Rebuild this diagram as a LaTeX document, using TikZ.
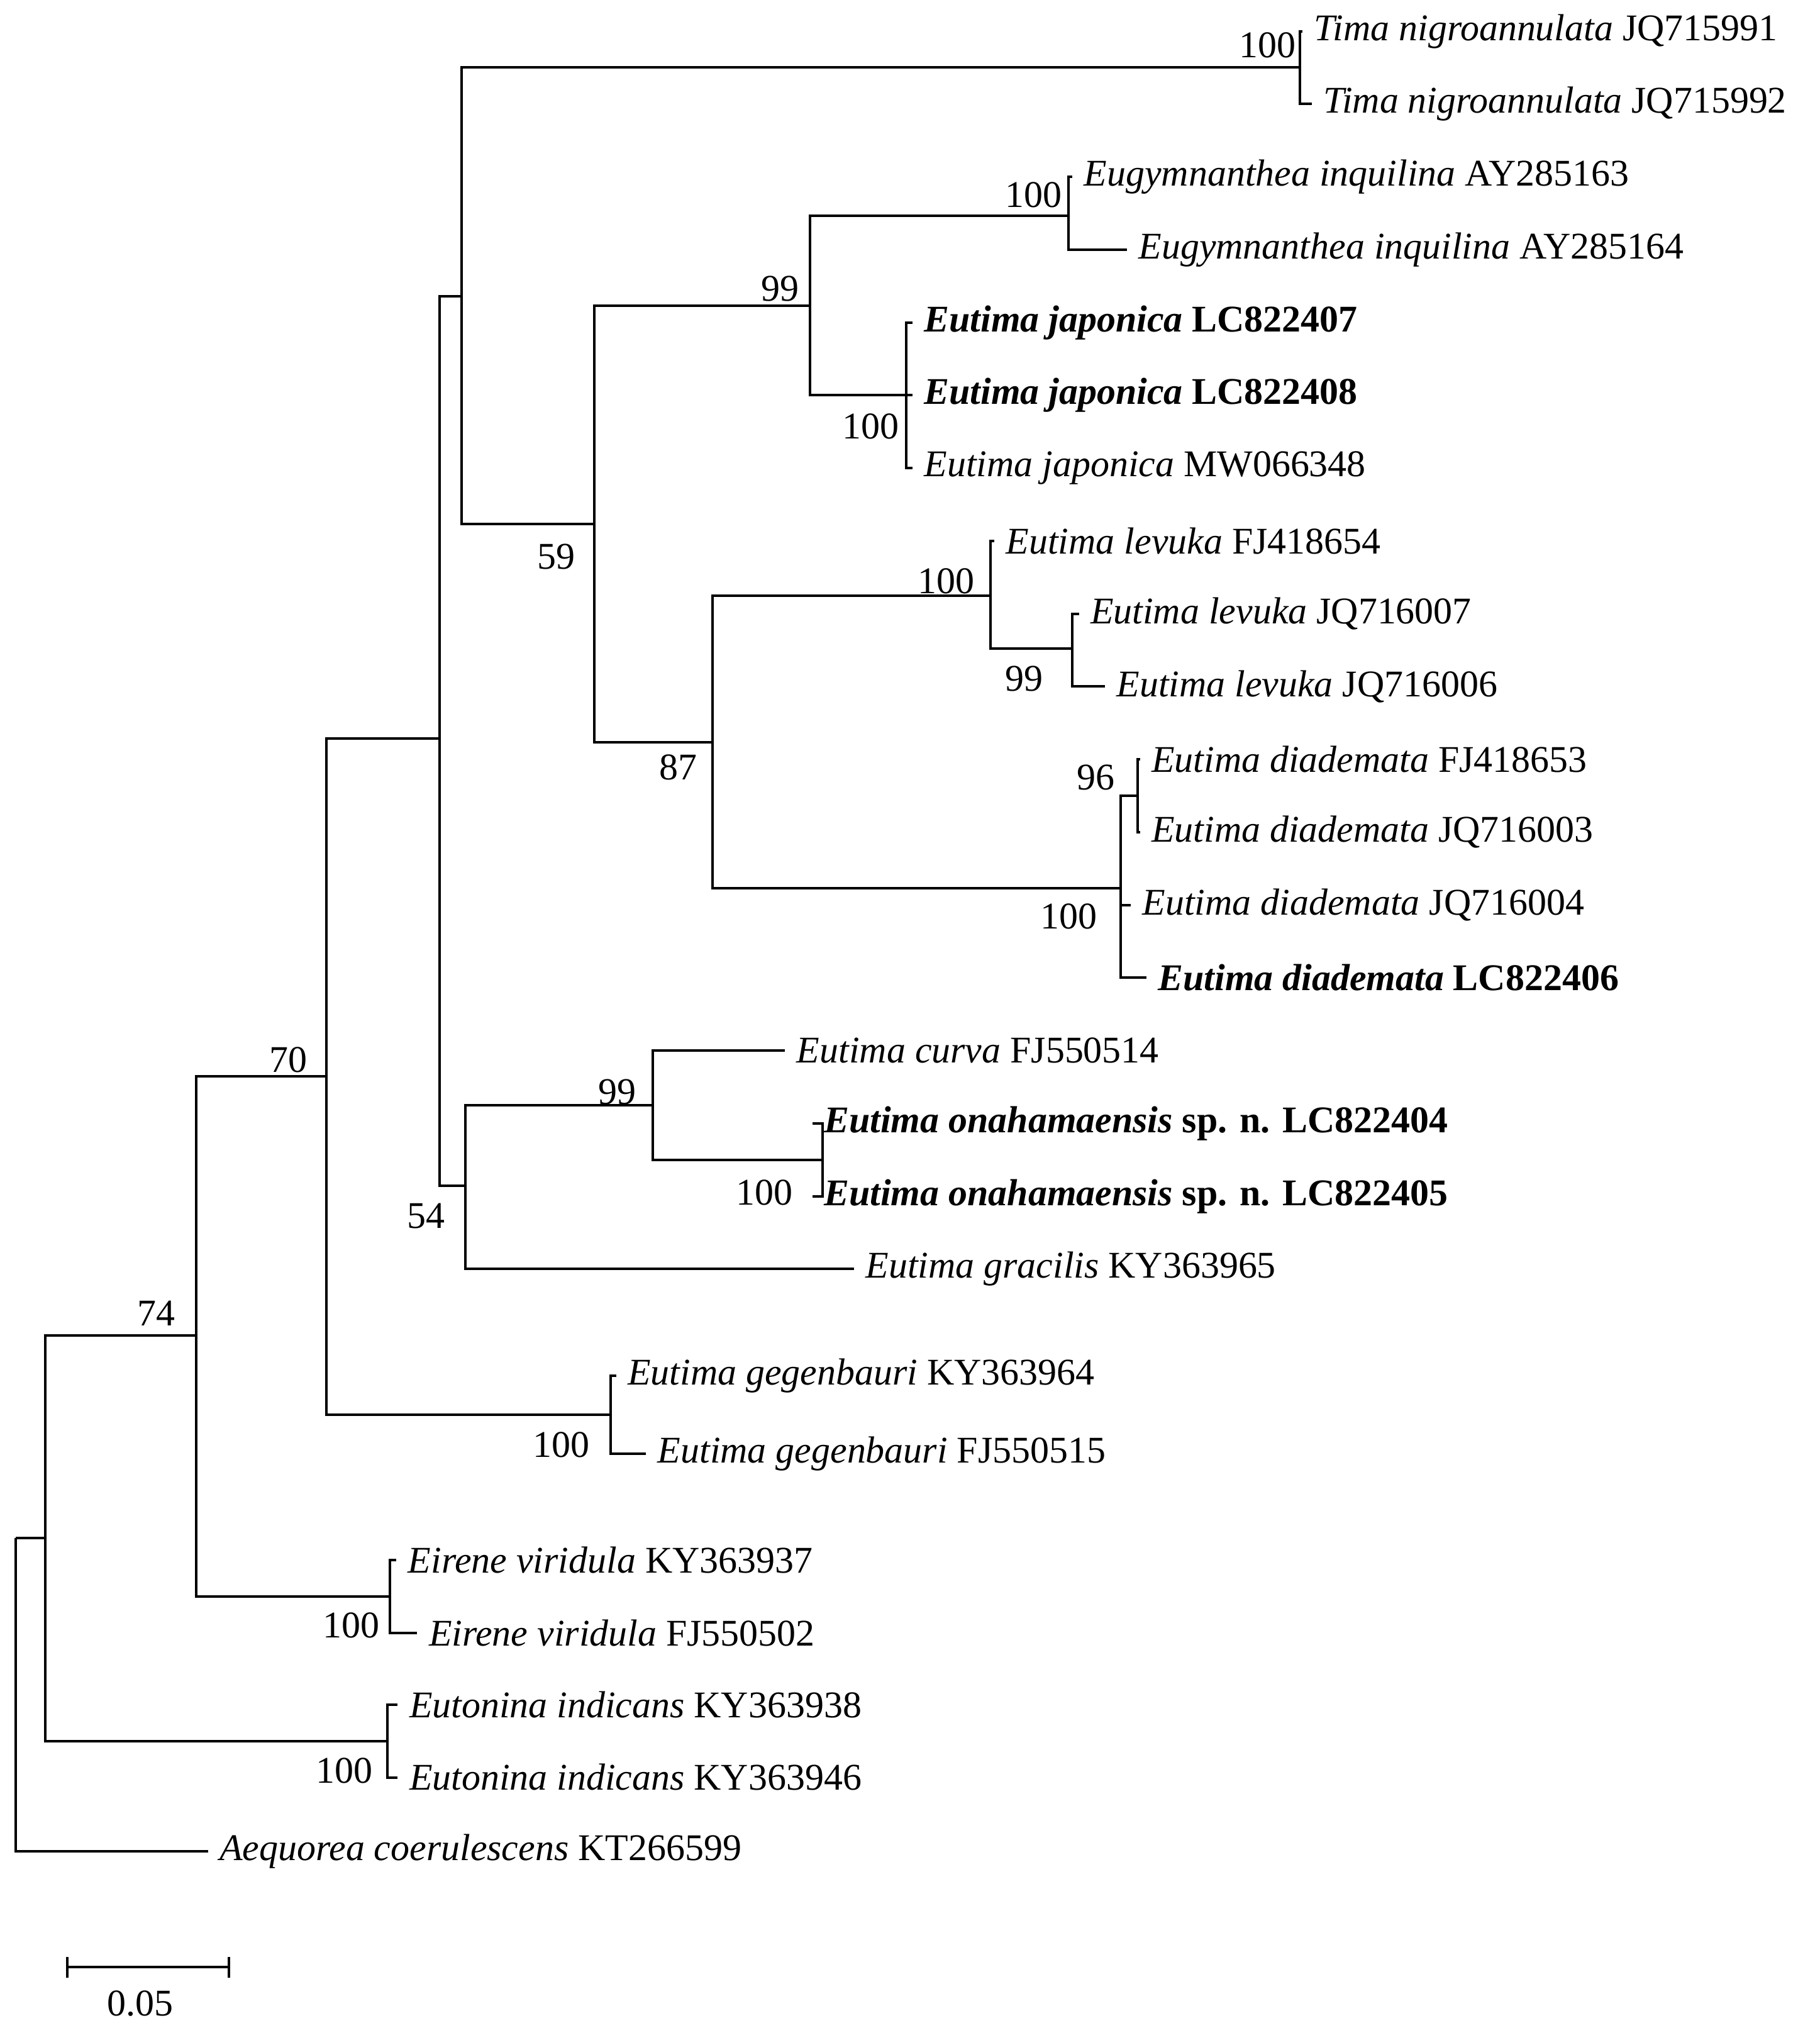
\documentclass[tikz,border=0pt]{standalone}
\usepackage{fontspec}
\setmainfont{Liberation Serif}
\begin{document}
\begin{tikzpicture}[x=0.02cm,y=-0.02cm,line width=1.1pt,
  leaf/.style={anchor=west,inner xsep=0.16cm,inner ysep=0pt,font=\fontsize{16.5}{19}\selectfont},
  bs/.style={inner sep=0pt,font=\fontsize{16.5}{19}\selectfont}]
\useasboundingbox (0,0) rectangle (1400,1569);
% internal nodes
\coordinate (r) at (12,1183);
\coordinate (n74) at (35,1183);
\coordinate (n70) at (151,1027);
\coordinate (n251) at (251,828);
\coordinate (n338) at (338,568);
\coordinate (n355) at (355,228);
\coordinate (tima) at (1000,52);
\coordinate (n59) at (457,403);
\coordinate (n99) at (623,235);
\coordinate (eug) at (822,166);
\coordinate (ej) at (697,304);
\coordinate (n87) at (548,571);
\coordinate (elev) at (762,458);
\coordinate (el) at (825,499);
\coordinate (ed) at (862,683);
\coordinate (n96) at (875,612);
\coordinate (n54) at (358,912);
\coordinate (n99b) at (502,850);
\coordinate (eo) at (633,892);
\coordinate (geg) at (470,1088);
\coordinate (eir) at (300,1228);
\coordinate (eut) at (298,1339);
% leaves
\node[leaf] (t1) at (1002,24) {\textit{Tima nigroannulata} JQ715991};
\node[leaf] (t2) at (1009,80) {\textit{Tima nigroannulata} JQ715992};
\node[leaf] (g1) at (825,136) {\textit{Eugymnanthea inquilina} AY285163};
\node[leaf] (g2) at (867,192) {\textit{Eugymnanthea inquilina} AY285164};
\node[leaf] (j1) at (702,248) {\textbf{\textit{Eutima japonica} LC822407}};
\node[leaf] (j2) at (702,304) {\textbf{\textit{Eutima japonica} LC822408}};
\node[leaf] (j3) at (702,360) {\textit{Eutima japonica} MW066348};
\node[leaf] (l1) at (765,416) {\textit{Eutima levuka} FJ418654};
\node[leaf] (l2) at (830,472) {\textit{Eutima levuka} JQ716007};
\node[leaf] (l3) at (850,528) {\textit{Eutima levuka} JQ716006};
\node[leaf] (d1) at (877,584) {\textit{Eutima diademata} FJ418653};
\node[leaf] (d2) at (877,640) {\textit{Eutima diademata} JQ716003};
\node[leaf] (d3) at (870,696) {\textit{Eutima diademata} JQ716004};
\node[leaf] (d4) at (882,752) {\textbf{\textit{Eutima diademata} LC822406}};
\node[leaf] (c1) at (604,808) {\textit{Eutima curva} FJ550514};
\node[leaf] (o1) at (625,864) {\textbf{\textit{Eutima onahamaensis} sp. n. LC822404}};
\node[leaf] (o2) at (625,920) {\textbf{\textit{Eutima onahamaensis} sp. n. LC822405}};
\node[leaf] (gr) at (657,976) {\textit{Eutima gracilis} KY363965};
\node[leaf] (e1) at (474,1058) {\textit{Eutima gegenbauri} KY363964};
\node[leaf] (e2) at (497,1118) {\textit{Eutima gegenbauri} FJ550515};
\node[leaf] (v1) at (305,1200) {\textit{Eirene viridula} KY363937};
\node[leaf] (v2) at (321,1256) {\textit{Eirene viridula} FJ550502};
\node[leaf] (u1) at (306,1311) {\textit{Eutonina indicans} KY363938};
\node[leaf] (u2) at (306,1367) {\textit{Eutonina indicans} KY363946};
\node[leaf] (aq) at (160,1424) {\textit{Aequorea coerulescens} KT266599};
% branches
\draw (r) -- (n74) (r) |- (aq.west);
\draw (n74) |- (n70) (n74) |- (eut);
\draw (eut) |- (u1.west) (eut) |- (u2.west);
\draw (n70) |- (n251) (n70) |- (eir);
\draw (eir) |- (v1.west) (eir) |- (v2.west);
\draw (n251) |- (n338) (n251) |- (geg);
\draw (geg) |- (e1.west) (geg) |- (e2.west);
\draw (n338) |- (n355) (n338) |- (n54);
\draw (n54) |- (n99b) (n54) |- (gr.west);
\draw (n99b) |- (c1.west) (n99b) |- (eo);
\draw (eo) |- (o1.west) (eo) |- (o2.west);
\draw (n355) |- (tima) (n355) |- (n59);
\draw (tima) |- (t1.west) (tima) |- (t2.west);
\draw (n59) |- (n99) (n59) |- (n87);
\draw (n99) |- (eug) (n99) |- (ej);
\draw (eug) |- (g1.west) (eug) |- (g2.west);
\draw (ej) |- (j1.west) (ej) |- (j3.west) (ej) -- (j2.west);
\draw (n87) |- (elev) (n87) |- (ed);
\draw (elev) |- (l1.west) (elev) |- (el);
\draw (el) |- (l2.west) (el) |- (l3.west);
\draw (ed) |- (n96) (ed) |- (d4.west) (ed |- d3.west) -- (d3.west);
\draw (n96) |- (d1.west) (n96) |- (d2.west);
% bootstrap values
\node[bs] (b1) at (975,35) {100};
\node[bs] (b2) at (795,150) {100};
\node[bs] (b3) at (600,222) {99};
\node[bs] (b4) at (670,328) {100};
\node[bs] (b5) at (428,428) {59};
\node[bs] (b6) at (728,447) {100};
\node[bs] (b7) at (788,522) {99};
\node[bs] (b8) at (522,590) {87};
\node[bs] (b9) at (843,598) {96};
\node[bs] (b10) at (822,705) {100};
\node[bs] (b11) at (475,840) {99};
\node[bs] (b12) at (588,917) {100};
\node[bs] (b13) at (328,935) {54};
\node[bs] (b14) at (222,815) {70};
\node[bs] (b15) at (120,1010) {74};
\node[bs] (b16) at (432,1111) {100};
\node[bs] (b17) at (270,1250) {100};
\node[bs] (b18) at (265,1362) {100};
% scale bar
\coordinate (s1) at (52,1513);
\coordinate (s2) at (176,1513);
\draw (s1) -- (s2);
\draw ([yshift=-0.16cm]s1) -- ([yshift=0.16cm]s1);
\draw ([yshift=-0.16cm]s2) -- ([yshift=0.16cm]s2);
\node[bs] (sl) at (108,1541) {0.05};
\end{tikzpicture}
\end{document}
